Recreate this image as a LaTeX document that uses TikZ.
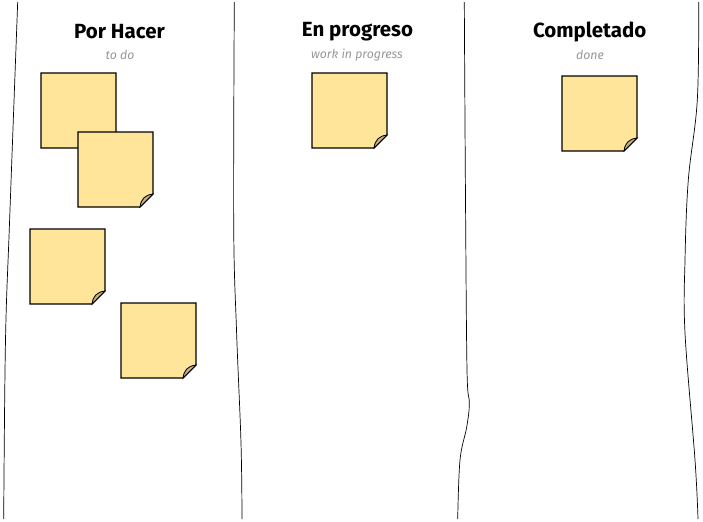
\documentclass[tikz,border=0pt]{standalone}
\usepackage{fontspec}
\setmainfont{Fira Sans}

\definecolor{notefill}{HTML}{FFE59A}
\definecolor{curlfill}{HTML}{C8B07C}
\definecolor{subgray}{HTML}{979797}

\tikzset{
  title/.style={font=\fontsize{17.5}{21}\selectfont\bfseries},
  subtitle/.style={font=\fontsize{10.5}{12}\selectfont\itshape, text=subgray},
  lane/.style={black, line width=0.6pt},
  postit/.pic={
    \draw[fill=notefill, line width=0.9pt] (0,0) -- (75,0) -- (75,62) -- (62,75) -- (0,75) -- cycle;
    \draw[fill=curlfill, line width=0.7pt] (62,75) .. controls (63,67) and (67,63) .. (75,62) -- cycle;
  }
}

\begin{document}
\begin{tikzpicture}[x=0.03cm, y=-0.03cm]

\useasboundingbox (0,0) rectangle (703,521);

\draw[lane] plot[smooth, tension=0.6] coordinates {(17.7,2) (9.7,218) (5.5,340) (3.7,519)};

\draw[lane] plot[smooth, tension=0.6] coordinates {(234.3,2) (233.7,225) (236.5,330) (241,443) (242,519)};

\draw[lane] plot[smooth, tension=0.6] coordinates {(464.3,2) (465.5,200) (467,370) (469.3,403) (466.7,427) (460,460) (457.7,519)};

\draw[lane] plot[smooth, tension=0.6] coordinates {(698.7,2) (697.3,100) (688.3,180) (685,260) (685,333) (695,460) (698,519)};

\node[title] (todo) at (119.5,32) {Por Hacer};
\node[subtitle] (todosub) at (120,55) {to do};

\node[title] (wip) at (357.5,32) {En progreso};
\node[subtitle] (wipsub) at (357,55) {work in progress};

\node[title] (done) at (589.7,32) {Completado};
\node[subtitle] (donesub) at (590,55) {done};

\pic at (41,73) {postit};
\pic at (78,132) {postit};
\pic at (30,229) {postit};
\pic at (121,303) {postit};

\pic at (312,73) {postit};

\pic at (562,76) {postit};

\end{tikzpicture}
\end{document}
